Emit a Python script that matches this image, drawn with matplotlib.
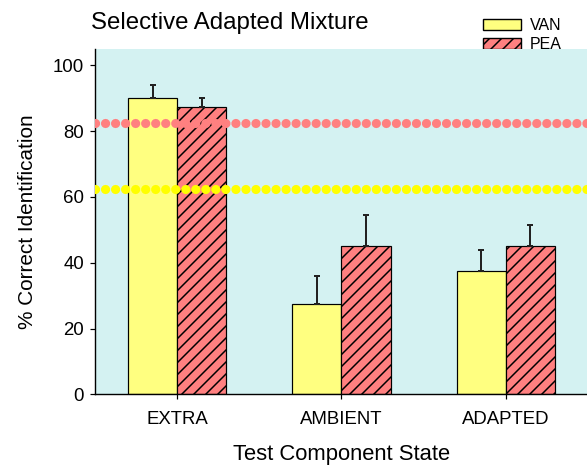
import matplotlib
matplotlib.use('Agg')
import matplotlib.pyplot as plt
from matplotlib.patches import Patch
import numpy as np

categories = ['EXTRA', 'AMBIENT', 'ADAPTED']
van_means = [90.0, 27.5, 37.5]
van_err = [4.1, 8.5, 6.3]
pea_means = [87.5, 45.0, 45.0]
pea_err = [2.5, 9.6, 6.5]
pea_level = 82.5
van_level = 62.5

YELLOW = '#ffff80'
PINK = '#ff8080'
BG = '#d4f2f2'

DPI = 144
plt.rcParams['font.family'] = ['Liberation Sans', 'DejaVu Sans']
plt.rcParams['hatch.linewidth'] = 0.75

fig = plt.figure(figsize=(587 / DPI, 465 / DPI), dpi=DPI)
ax = fig.add_axes([95 / 587, 1 - 394.3 / 465, 493 / 587, (394.3 - 49) / 465])
ax.set_facecolor(BG)

x = np.arange(len(categories))
w = 0.3
ax.bar(x - w / 2, van_means, w, color=YELLOW, edgecolor='black', linewidth=0.6, zorder=2)
ax.bar(x + w / 2, pea_means, w, color=PINK, edgecolor='black', linewidth=0.6,
       hatch='////', zorder=2)

ekw = dict(fmt='none', ecolor='#222222', elinewidth=1.0, capsize=1.3, capthick=1.0, zorder=3)
ax.errorbar(x - w / 2, van_means, yerr=[np.zeros(3), van_err], **ekw)
ax.errorbar(x + w / 2, pea_means, yerr=[np.zeros(3), pea_err], **ekw)

# dotted reference levels: round dots ~8px wide, 10px apart
dots = dict(linewidth=4.6, linestyle=(0, (0.01, 1.08)), dash_capstyle='round', zorder=4)
ax.axhline(pea_level, color=PINK, **dots)
ax.axhline(van_level, color='#ffff00', **dots)

ax.set_xlim(-0.5, 2.5)
ax.set_ylim(0, 105)
ax.set_yticks([0, 20, 40, 60, 80, 100])
ax.set_xticks(x)
ax.set_xticklabels(categories)
for s in ['top', 'right']:
    ax.spines[s].set_visible(False)
for s in ['left', 'bottom']:
    ax.spines[s].set_linewidth(0.7)
ax.tick_params(direction='out', length=2.5, width=0.6, labelsize=9.3, pad=3)
ax.tick_params(axis='x', pad=6)

ax.set_xlabel('Test Component State', fontsize=11, labelpad=8)
ax.set_ylabel('% Correct Identification', fontsize=10.4, labelpad=8)

fig.text(91 / 587, 1 - 29.3 / 465, 'Selective Adapted Mixture', fontsize=12, va='baseline')

handles = [Patch(facecolor=YELLOW, edgecolor='black', linewidth=0.7),
           Patch(facecolor=PINK, edgecolor='black', linewidth=0.7, hatch='////')]
leg = fig.legend(handles, ['VAN', 'PEA'], loc='upper left', bbox_to_anchor=(483 / 587, 1 - 18 / 465),
                 frameon=False, fontsize=8, handlelength=2.4, handleheight=0.65,
                 handletextpad=0.55, labelspacing=0.25, borderpad=0, borderaxespad=0)
leg.set_zorder(-1)

fig.savefig('out.png', dpi=DPI)
